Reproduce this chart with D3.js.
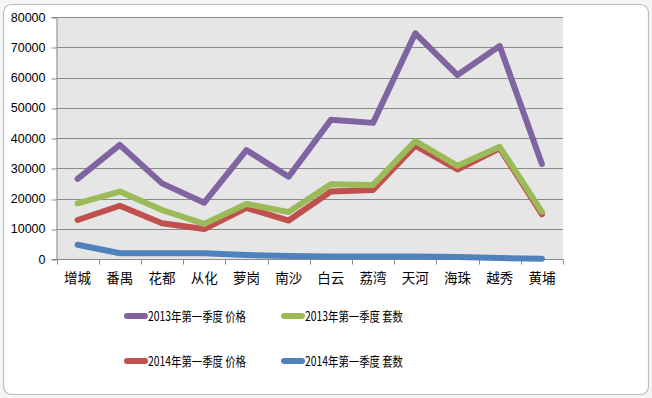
<!DOCTYPE html>
<html><head><meta charset="utf-8">
<script src="https://cdn.jsdelivr.net/npm/d3@7"></script>
<style>body{margin:0;background:#f3f3f3;}svg{display:block;font-family:"Noto Sans CJK SC","DejaVu Sans",sans-serif;}</style>
</head><body>
<svg id="c" width="652" height="398"></svg>
<script>
const categories = ["增城","番禺","花都","从化","萝岗","南沙","白云","荔湾","天河","海珠","越秀","黄埔"];
const price2013 = [26500,37700,25000,18600,36000,27200,46000,45000,74600,60800,70400,31400];
const count2013 = [18400,22300,16200,11600,18200,15500,24700,24500,39000,30800,37100,15600];
const price2014 = [12900,17600,11800,9900,16900,12700,22300,22800,37500,29600,36600,14800];
const count2014 = [4700,1900,1900,1900,1300,1000,800,800,800,700,300,100];
const yTicks = [0,10000,20000,30000,40000,50000,60000,70000,80000];
const seriesNames = ["2013年第一季度 价格","2013年第一季度 套数","2014年第一季度 价格","2014年第一季度 套数"];
const seriesColors = ["#8064A2","#9BBB59","#C0504D","#4F81BD"];
const seriesData = [price2013, count2013, price2014, count2014];
const drawOrder = [3,2,1,0];

const svg = d3.select("#c");
svg.append("rect").attr("width",652).attr("height",398).attr("fill","#f5f5f5");
svg.append("rect").attr("x",3.5).attr("y",4.5).attr("width",645).attr("height",390).attr("rx",8)
  .attr("fill","#fff").attr("stroke","#bdbdbd").attr("stroke-width",1.2);

const L=56.5, R=563, T=17, B=259;
const x = d3.scaleBand().domain(categories).range([L,R]);
const y = d3.scaleLinear().domain([0,80000]).range([B,T]);

svg.append("rect").attr("x",L).attr("y",T).attr("width",R-L).attr("height",B-T).attr("fill","#e6e6e6");
svg.append("g").selectAll("line").data(yTicks.filter(d=>d>0)).join("line")
  .attr("x1",L).attr("x2",R).attr("y1",d=>Math.round(y(d))+0.5).attr("y2",d=>Math.round(y(d))+0.5)
  .attr("stroke","#8a8a8a").attr("stroke-width",1);

const yAxis = svg.append("g").attr("transform",`translate(${L},0)`)
  .call(d3.axisLeft(y).tickValues(yTicks).tickSize(5).tickPadding(6).tickFormat(d3.format("d")));
yAxis.selectAll("text").attr("font-size",12.5).attr("fill","#000").attr("font-family","Liberation Sans, Arial, sans-serif");
yAxis.selectAll("line,path").attr("stroke","#8a8a8a");
yAxis.selectAll(".tick line").attr("transform",d=>`translate(0,${Math.round(y(d))+0.5-y(d)})`);

const xg = svg.append("g").attr("transform",`translate(0,${B+0.5})`);
xg.append("line").attr("x1",L).attr("x2",R).attr("stroke","#8a8a8a");
const bounds = categories.map(c=>x(c)).concat([R]);
xg.selectAll("line.t").data(bounds).join("line").attr("class","t")
  .attr("x1",d=>Math.round(d)+0.5).attr("x2",d=>Math.round(d)+0.5).attr("y1",0).attr("y2",5).attr("stroke","#8a8a8a");
xg.selectAll("text").data(categories).join("text")
  .attr("x",d=>x(d)+x.bandwidth()/2).attr("y",23).attr("text-anchor","middle")
  .attr("font-size",13.5).attr("fill","#000").text(d=>d);

const line = d3.line().x((d,i)=>x(categories[i])+x.bandwidth()/2).y(d=>y(d));
drawOrder.forEach(i=>{
  svg.append("path").datum(seriesData[i]).attr("d",line).attr("fill","none")
    .attr("stroke",seriesColors[i]).attr("stroke-width",6).attr("stroke-linejoin","round").attr("stroke-linecap","round");
});

const lg = svg.append("g");
const lpos = [[124,316],[281,316],[124,361],[281,361]];
seriesNames.forEach((n,i)=>{
  const [lx,ly]=lpos[i];
  lg.append("line").attr("x1",lx+3).attr("x2",lx+21).attr("y1",ly).attr("y2",ly)
    .attr("stroke",seriesColors[i]).attr("stroke-width",6).attr("stroke-linecap","round");
  lg.append("text").attr("x",lx+24).attr("y",ly+5).attr("font-size",13).attr("fill","#000")
    .attr("textLength",98).attr("lengthAdjust","spacingAndGlyphs").text(n);
});
</script>
</body></html>
